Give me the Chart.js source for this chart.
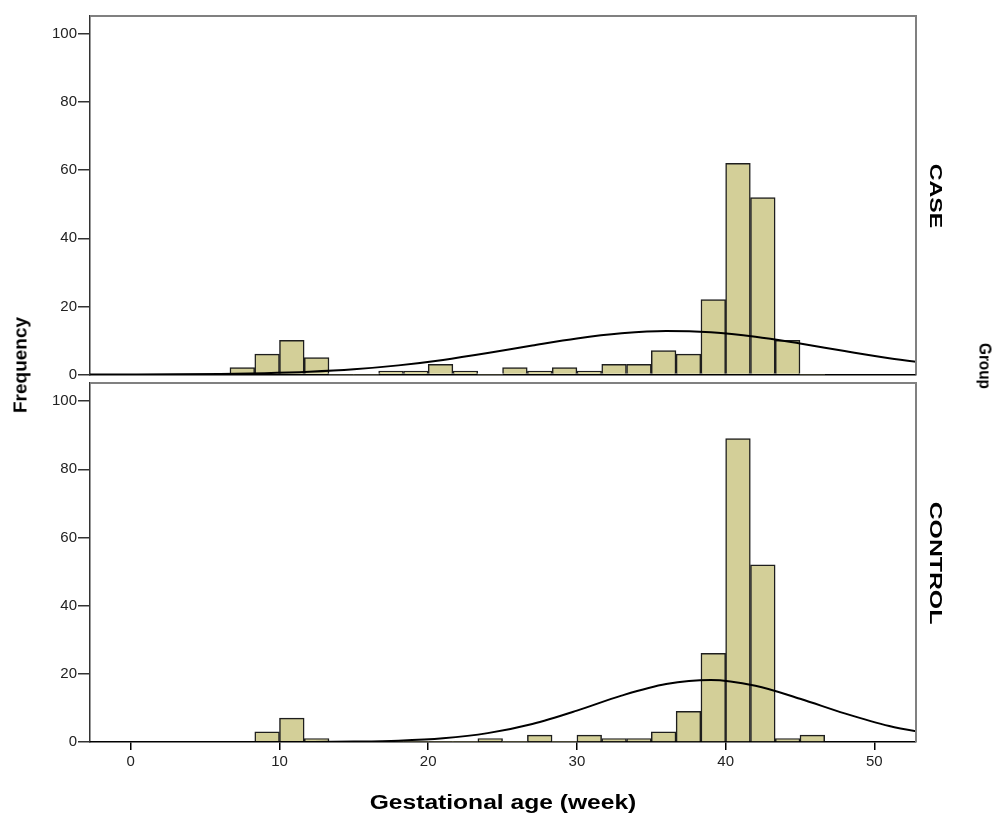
<!DOCTYPE html>
<html>
<head>
<meta charset="utf-8">
<script src="https://cdn.jsdelivr.net/npm/chart.js@4.4.1/dist/chart.umd.min.js"></script>
<style>
  html, body { margin: 0; padding: 0; background: #fff; }
  #wrap { position: relative; width: 996px; height: 816px; overflow: hidden; }
  #wrap canvas { position: absolute; left: 0; top: 0; }
  .lbl {
    position: absolute;
    font-family: "Liberation Sans", Arial, sans-serif;
    font-weight: bold;
    color: #000;
    white-space: nowrap;
    line-height: 1;
  }
</style>
</head>
<body>
<div id="wrap">
  <canvas id="caseChart" width="996" height="816"></canvas>
  <canvas id="controlChart" width="996" height="816"></canvas>
  <div class="lbl" style="left:20px;top:365px;font-size:19px;transform:translate(-50%,-50%) rotate(-90deg);">Frequency</div>
  <div class="lbl" style="left:985px;top:366px;font-size:17px;transform:translate(-50%,-50%) rotate(90deg) scaleX(0.9);">Group</div>
  <div class="lbl" style="left:935px;top:196px;font-size:16px;transform:translate(-50%,-50%) rotate(90deg) scaleX(1.45);">CASE</div>
  <div class="lbl" style="left:935px;top:563px;font-size:16px;transform:translate(-50%,-50%) rotate(90deg) scaleX(1.55);">CONTROL</div>
  <div class="lbl" style="left:503px;top:802px;font-size:20px;transform:translate(-50%,-50%) scaleX(1.23);">Gestational age (week)</div>
</div>
<script>
// histogram bins (centre of each 5/3-week bin)
const binCenters = [7.5, 9.17, 10.83, 12.5, 14.17, 15.83, 17.5, 19.17, 20.83, 22.5, 24.17, 25.83,
  27.5, 29.17, 30.83, 32.5, 34.17, 35.83, 37.5, 39.17, 40.83, 42.5, 44.17, 45.83];

const caseCounts    = [2, 6, 10, 5, 0, 0, 1, 1, 3, 1, 0, 2, 1, 2, 1, 3, 3, 7, 6, 22, 62, 52, 10, 0];
const controlCounts = [0, 3, 7, 1, 0, 0, 0, 0, 0, 0, 1, 0, 2, 0, 2, 1, 1, 3, 9, 26, 89, 52, 1, 2];

// normal curve
const curveX       = [-3, 0, 3, 6, 9, 12, 15, 18, 21, 24, 27, 30, 33, 36, 39, 42, 45, 48, 51, 54];
const caseCurve    = [0.01, 0.03, 0.07, 0.18, 0.4, 0.82, 1.54, 2.68, 4.28, 6.29, 8.51, 10.6, 12.1, 12.8, 12.4, 11.1, 9.1, 6.9, 4.8, 3.1];
const controlCurve = [0, 0, 0, 0, 0.01, 0.03, 0.12, 0.38, 1.08, 2.6, 5.3, 9.2, 13.6, 17.0, 18.2, 16.5, 12.7, 8.4, 4.7, 2.2];

const xTicks = [0, 10, 20, 30, 40, 50];
const yTicks = [0, 20, 40, 60, 80, 100];

const X_MIN = -2.74, X_MAX = 52.8;
const Y_MAX = 105.3;
const FONT = '"Liberation Sans", Arial, sans-serif';

// gray frame on top and right of each panel
const framePlugin = {
  id: 'frame',
  afterDraw(chart) {
    const { ctx, chartArea: a } = chart;
    ctx.save();
    ctx.strokeStyle = '#808080';
    ctx.lineWidth = 2;
    ctx.beginPath();
    ctx.moveTo(a.left, a.top);
    ctx.lineTo(a.right, a.top);
    ctx.lineTo(a.right, a.bottom);
    ctx.stroke();
    ctx.restore();
  }
};

const makePanel = (canvasId, counts, curve, padTop, padBottom, showX) => {
  const xScale = {
    type: 'linear',
    min: X_MIN,
    max: X_MAX,
    bounds: 'data',
    offset: false,
    border: { color: '#000', width: 1.5 },
    grid: { offset: false, drawOnChartArea: false, tickLength: 8, color: '#000', lineWidth: 1.5 }
  };
  if (showX) {
    xScale.afterFit = s => { s.height = 74; };
    xScale.afterBuildTicks = s => { s.ticks = xTicks.map(v => ({ value: v })); };
    xScale.ticks = { color: '#222', font: { family: FONT, size: 15 }, padding: 3, maxRotation: 0 };
  } else {
    xScale.afterFit = s => { s.height = 0; };
    xScale.ticks = { display: false };
    xScale.grid.display = false;
  }

  return new Chart(document.getElementById(canvasId), {
    type: 'bar',
    data: {
      datasets: [
        {
          type: 'line',
          data: curveX.map((x, i) => ({ x: x, y: curve[i] })),
          borderColor: '#000',
          borderWidth: 2,
          pointRadius: 0,
          cubicInterpolationMode: 'monotone',
          fill: false,
          order: 0
        },
        {
          type: 'bar',
          data: binCenters.map((c, i) => ({ x: c, y: counts[i] })),
          backgroundColor: '#d3cf98',
          borderColor: '#1e1e1e',
          borderWidth: ctx => (ctx.raw && ctx.raw.y > 0 ? 1.5 : 0),
          barPercentage: 1,
          categoryPercentage: 1,
          order: 1
        }
      ]
    },
    options: {
      responsive: false,
      animation: false,
      layout: { padding: { left: 0, right: 80, top: padTop, bottom: padBottom } },
      plugins: { legend: { display: false }, tooltip: { enabled: false } },
      scales: {
        x: xScale,
        y: {
          min: 0,
          max: Y_MAX,
          bounds: 'data',
          afterFit: s => { s.width = 90; },
          afterBuildTicks: s => { s.ticks = yTicks.map(v => ({ value: v })); },
          ticks: { color: '#222', font: { family: FONT, size: 15 }, padding: 1 },
          grid: { drawOnChartArea: false, tickLength: 12, color: '#333', lineWidth: 1.5 },
          border: { color: '#333', width: 1.5 }
        }
      }
    },
    plugins: [framePlugin]
  });
};

makePanel('caseChart', caseCounts, caseCurve, 16, 441.5, false);
makePanel('controlChart', controlCounts, controlCurve, 383, 0, true);
</script>
</body>
</html>
